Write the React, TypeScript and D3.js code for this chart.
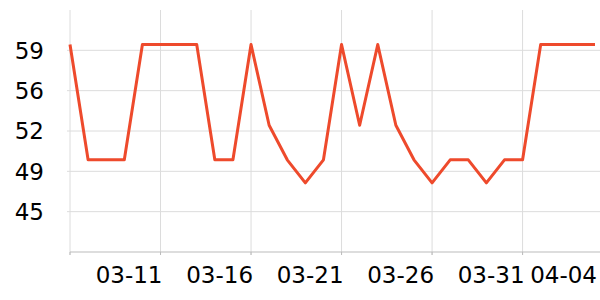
import React from "react";
import * as d3 from "d3";

const dates = [
  "03-06", "03-07", "03-08", "03-09", "03-10", "03-11", "03-12", "03-13", "03-14", "03-15",
  "03-16", "03-17", "03-18", "03-19", "03-20", "03-21", "03-22", "03-23", "03-24", "03-25",
  "03-26", "03-27", "03-28", "03-29", "03-30", "03-31", "04-01", "04-02", "04-03", "04-04",
];
const values = [
  60, 50, 50, 50, 60, 60, 60, 60, 50, 50,
  60, 53, 50, 48, 50, 60, 53, 60, 53, 50,
  48, 50, 50, 48, 50, 50, 60, 60, 60, 60,
];
const gridDates = ["03-06", "03-11", "03-16", "03-21", "03-26", "03-31"];
const labelDates = ["03-11", "03-16", "03-21", "03-26", "03-31", "04-04"];
const yTicks = [45.5, 49, 52.5, 56, 59.5];
const yDomain = [42, 63];

const W = 600;
const H = 300;
const left = 70;
const right = 595;
const top = 10;
const bottom = 252;

export default function App() {
  const x = d3.scalePoint<string>().domain(dates).range([left, right]);
  const y = d3.scaleLinear().domain(yDomain).range([bottom, top]);
  const line = d3
    .line<number>()
    .x((_, i) => x(dates[i]) as number)
    .y((d) => y(d));
  const font = "'DejaVu Sans', sans-serif";
  return (
    <svg
      width={W}
      height={H}
      style={{ position: "absolute", left: 0, top: 0, background: "#fff" }}
      fontFamily={font}
    >
      {yTicks.map((t) => (
        <g key={t}>
          <line x1={left - 3} x2={W} y1={y(t)} y2={y(t)} stroke="#dcdcdc" strokeWidth={1} />
          <text x={44} y={y(t)} dy="0.36em" textAnchor="end" fontSize={23} fill="#000">
            {Math.floor(t)}
          </text>
        </g>
      ))}
      {gridDates.map((d) => (
        <g key={d}>
          <line x1={x(d)} x2={x(d)} y1={top} y2={bottom + 3} stroke="#dcdcdc" strokeWidth={1} />
        </g>
      ))}
      {gridDates.map((d) => (
        <line key={"t" + d} x1={x(d)} x2={x(d)} y1={bottom} y2={bottom + 3} stroke="#bbb" strokeWidth={1} />
      ))}
      <line x1={left} x2={W} y1={bottom} y2={bottom} stroke="#bbb" strokeWidth={1} />
      {labelDates.map((d) => (
        <text key={"l" + d} x={(x(d) as number) + 2} y={282.7} textAnchor="end" fontSize={23} fill="#000">
          {d}
        </text>
      ))}
      <path d={line(values) || ""} fill="none" stroke="#ee4a2c" strokeWidth={3} strokeLinejoin="round" />
    </svg>
  );
}
